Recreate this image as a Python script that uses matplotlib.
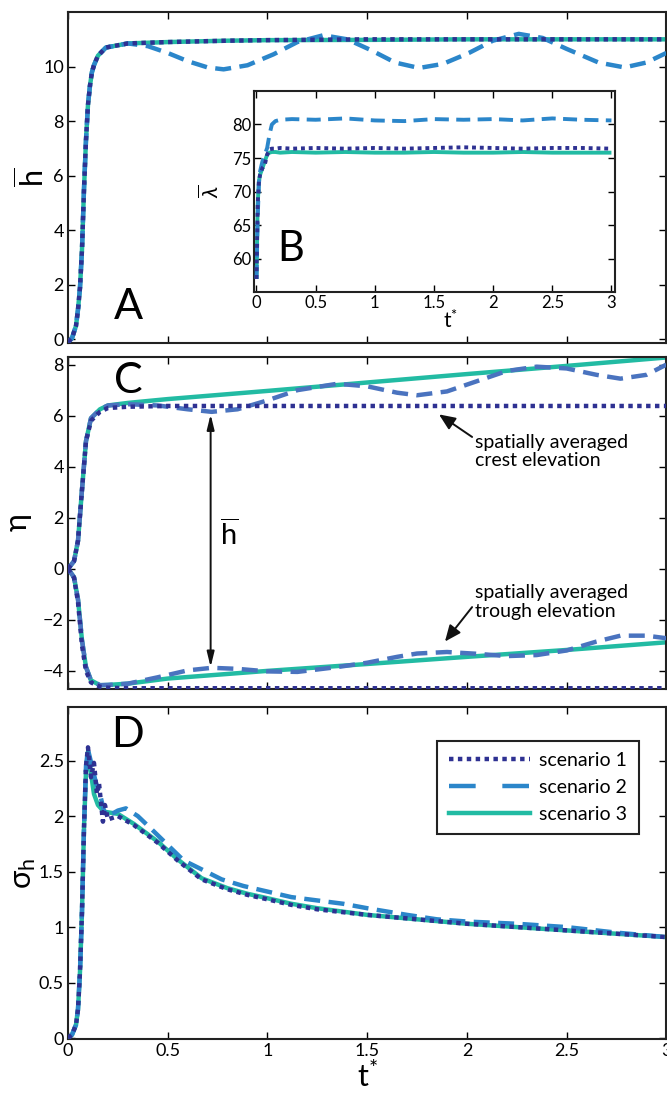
import warnings
warnings.filterwarnings("ignore")

import matplotlib
matplotlib.use("Agg")
import matplotlib.pyplot as plt
from matplotlib.lines import Line2D

plt.rcParams["font.family"] = ["Lato", "DejaVu Sans"]
plt.rcParams["mathtext.fontset"] = "custom"
plt.rcParams["mathtext.rm"] = "Lato"
plt.rcParams["mathtext.it"] = "Lato:italic"

# ==================== colours ====================
C_S1 = "#2E3192"   # scenario 1, dotted
C_S2 = "#2B86CA"   # scenario 2, dashed
C_S2C = "#4A73BF"  # scenario 2 in panel C
C_S3 = "#22BBA3"   # scenario 3, solid

DOT = (0, (1.0, 1.0))
DASH = (0, (3.6, 1.9))
LW = 3.2

# ==================== panel A : mean wave height ====================
t_a = [0, 0.02, 0.04, 0.05, 0.06, 0.07, 0.08, 0.09, 0.10, 0.11, 0.12, 0.13,
       0.15, 0.19, 0.3, 0.5, 0.8, 1.0, 1.5, 2.0, 2.5, 3.0]
h_s1 = [-0.1, 0.05, 0.5, 1.1, 1.9, 3.3, 5.5, 7.3, 8.6, 9.3, 9.8, 10.05,
        10.4, 10.7, 10.85, 10.9, 10.95, 10.97, 11.0, 11.0, 11.0, 11.0]
h_s3 = [-0.1, 0.05, 0.5, 1.1, 1.9, 3.3, 5.5, 7.3, 8.6, 9.3, 9.8, 10.05,
        10.4, 10.7, 10.85, 10.9, 10.95, 10.97, 10.98, 11.0, 11.0, 11.0]
t_a2 = [0, 0.02, 0.04, 0.05, 0.06, 0.07, 0.08, 0.09, 0.10, 0.11, 0.12, 0.13,
        0.15, 0.19, 0.3, 0.4, 0.5, 0.6, 0.7, 0.78, 0.9, 1.03, 1.15, 1.28,
        1.4, 1.52, 1.64, 1.76, 1.88, 2.01, 2.13, 2.26, 2.38, 2.5, 2.66,
        2.79, 2.9, 3.0]
h_s2 = [-0.1, 0.05, 0.5, 1.1, 1.9, 3.3, 5.5, 7.3, 8.6, 9.3, 9.8, 10.05,
        10.4, 10.7, 10.85, 10.75, 10.5, 10.2, 9.97, 9.9, 10.05, 10.45, 10.9,
        11.15, 11.0, 10.6, 10.15, 9.95, 10.1, 10.5, 10.95, 11.2, 11.05,
        10.65, 10.15, 9.97, 10.15, 10.5]

# ==================== panel B (inset) : mean wavelength ====================
t_b = [0, 0.01, 0.02, 0.03, 0.05, 0.07, 0.09, 0.11, 0.13, 0.16, 0.2, 0.3,
       0.5, 0.75, 1.0, 1.25, 1.5, 1.75, 2.0, 2.25, 2.5, 2.75, 3.0]
lam_s1 = [57, 68, 71.5, 72.5, 73.5, 74.0, 75.5, 76.3, 76.4, 76.4, 76.5, 76.4,
          76.5, 76.4, 76.5, 76.4, 76.5, 76.6, 76.5, 76.4, 76.5, 76.5, 76.4]
lam_s2 = [57, 66, 71, 73, 74.5, 75.5, 76.5, 78.5, 80.0, 80.5, 80.7, 80.8,
          80.7, 80.9, 80.6, 80.5, 80.8, 80.7, 80.8, 80.6, 80.9, 80.7, 80.6]
lam_s3 = [57, 68, 71.5, 72.5, 73.5, 74.5, 75.5, 75.8, 75.9, 75.9, 75.8, 75.9,
          75.8, 75.9, 75.8, 75.8, 75.9, 75.8, 75.8, 75.9, 75.8, 75.8, 75.8]

# ==================== panel C : crest / trough elevation ====================
t_c = [0, 0.03, 0.05, 0.07, 0.09, 0.115, 0.16, 0.2, 0.3, 0.5, 1.0, 1.5,
       2.0, 2.5, 3.0]
crest_s1 = [0, 0.3, 1.1, 3.1, 5.0, 5.8, 6.15, 6.3, 6.35, 6.38, 6.38, 6.38,
            6.38, 6.38, 6.38]
crest_s3 = [0, 0.3, 1.1, 3.1, 5.0, 5.9, 6.25, 6.4, 6.5, 6.65, 6.97, 7.3,
            7.63, 7.95, 8.28]
trough_s1 = [0, -0.35, -1.3, -3.0, -4.0, -4.45, -4.62, -4.66, -4.68, -4.68,
             -4.68, -4.68, -4.68, -4.68, -4.68]
trough_s3 = [0, -0.33, -1.2, -2.8, -3.85, -4.37, -4.56, -4.55, -4.5, -4.3,
             -4.0, -3.73, -3.45, -3.18, -2.88]
t_c2 = [0, 0.03, 0.05, 0.07, 0.09, 0.115, 0.16, 0.2, 0.3, 0.45, 0.6, 0.72,
        0.85, 1.0, 1.15, 1.35, 1.5, 1.65, 1.75, 1.9, 2.05, 2.2, 2.35, 2.5,
        2.65, 2.77, 2.9, 3.0]
crest_s2 = [0, 0.3, 1.1, 3.1, 5.0, 5.9, 6.25, 6.4, 6.45, 6.4, 6.25, 6.15,
            6.25, 6.6, 7.0, 7.25, 7.15, 6.9, 6.8, 6.95, 7.35, 7.75, 7.92,
            7.85, 7.6, 7.45, 7.6, 8.0]
trough_s2 = [0, -0.33, -1.2, -2.8, -3.85, -4.37, -4.56, -4.55, -4.5, -4.25,
             -3.98, -3.88, -3.92, -4.02, -4.04, -3.85, -3.68, -3.45, -3.32,
             -3.26, -3.33, -3.42, -3.38, -3.2, -2.85, -2.62, -2.62, -2.72]

# ==================== panel D : std of wave height ====================
t_d = [0, 0.02, 0.04, 0.05, 0.06, 0.07, 0.08, 0.09, 0.1, 0.11, 0.13, 0.15,
       0.18, 0.25, 0.33, 0.45, 0.55, 0.67, 0.8, 0.9, 1.0, 1.12, 1.25, 1.5,
       1.75, 2.0, 2.25, 2.5, 2.75, 3.0]
sig_s3 = [0, 0.03, 0.12, 0.26, 0.6, 1.14, 1.89, 2.4, 2.58, 2.45, 2.2, 2.1,
          2.04, 2.02, 1.93, 1.77, 1.61, 1.44, 1.35, 1.3, 1.26, 1.21, 1.17,
          1.11, 1.07, 1.03, 1.0, 0.97, 0.94, 0.91]
t_d1 = [0, 0.02, 0.04, 0.05, 0.06, 0.07, 0.08, 0.09, 0.1, 0.115, 0.13, 0.145,
        0.155, 0.175, 0.185, 0.2, 0.25, 0.33, 0.45, 0.55, 0.67, 0.8, 0.9,
        1.0, 1.12, 1.25, 1.5, 1.75, 2.0, 2.25, 2.5, 2.75, 3.0]
sig_s1 = [0, 0.03, 0.12, 0.26, 0.6, 1.14, 1.89, 2.45, 2.62, 2.35, 2.48, 2.2,
          2.3, 1.95, 2.1, 1.97, 2.0, 1.92, 1.76, 1.6, 1.43, 1.34, 1.29,
          1.25, 1.2, 1.16, 1.11, 1.07, 1.03, 1.0, 0.97, 0.94, 0.91]
t_d2 = [0, 0.02, 0.04, 0.05, 0.06, 0.07, 0.08, 0.09, 0.1, 0.12, 0.14, 0.16,
        0.18, 0.2, 0.25, 0.29, 0.35, 0.42, 0.5, 0.58, 0.67, 0.77, 0.88, 1.0,
        1.12, 1.25, 1.38, 1.5, 1.7, 1.85, 2.0, 2.25, 2.5, 2.75, 3.0]
sig_s2 = [0, 0.03, 0.12, 0.26, 0.6, 1.14, 1.89, 2.45, 2.6, 2.45, 2.3, 2.2,
          2.05, 2.0, 2.05, 2.07, 2.0, 1.88, 1.74, 1.6, 1.52, 1.43, 1.37,
          1.32, 1.27, 1.24, 1.21, 1.17, 1.11, 1.07, 1.05, 1.03, 1.0, 0.95,
          0.91]

X_TICKS = [0, 0.5, 1, 1.5, 2, 2.5, 3]
X_TICKLABELS = ["0", "0.5", "1", "1.5", "2", "2.5", "3"]


def style_axes(ax, labelsize=13):
    ax.tick_params(direction="in", top=True, right=True, length=5,
                   width=1.0, labelsize=labelsize, pad=3)
    for sp in ax.spines.values():
        sp.set_linewidth(1.5)
        sp.set_color("#222222")


def three_lines(ax, t1, y1, t2, y2, t3, y3, c2=C_S2, lw=LW):
    ax.plot(t3, y3, color=C_S3, lw=lw, solid_capstyle="butt", zorder=2)
    ax.plot(t2, y2, color=c2, lw=lw, linestyle=DASH, dash_capstyle="butt",
            zorder=3)
    ax.plot(t1, y1, color=C_S1, lw=lw, linestyle=DOT, dash_capstyle="butt",
            zorder=4)


def main():
    fig = plt.figure(figsize=(6.67, 10.95), dpi=100)

    # ---- panel A ----
    ax_a = fig.add_axes([0.102, 0.687, 0.897, 0.302])
    three_lines(ax_a, t_a, h_s1, t_a2, h_s2, t_a, h_s3)
    ax_a.set_xlim(0, 3.0)
    ax_a.set_ylim(-0.12, 12.0)
    ax_a.set_xticks(X_TICKS)
    ax_a.set_xticklabels([])
    ax_a.set_yticks([0, 2, 4, 6, 8, 10])
    style_axes(ax_a)
    ax_a.set_ylabel(r"$\overline{\mathrm{h}}$", fontsize=22)
    ax_a.yaxis.set_label_coords(-0.03, 0.5)
    ax_a.text(0.077, 0.052, "A", transform=ax_a.transAxes, fontsize=31,
              ha="left", va="bottom")

    # ---- inset B ----
    ax_b = fig.add_axes([0.381, 0.733, 0.541, 0.184])
    three_lines(ax_b, t_b, lam_s1, t_b, lam_s2, t_b, lam_s3, lw=2.8)
    ax_b.set_xlim(-0.02, 3.03)
    ax_b.set_ylim(55, 85)
    ax_b.set_xticks(X_TICKS)
    ax_b.set_xticklabels(X_TICKLABELS)
    ax_b.set_yticks([60, 65, 70, 75, 80])
    style_axes(ax_b, labelsize=12)
    ax_b.tick_params(pad=2)
    ax_b.set_xlabel(r"$\mathrm{t}^{*}$", fontsize=15)
    ax_b.xaxis.set_label_coords(0.545, -0.085)
    ax_b.set_ylabel(r"$\overline{\lambda}$", fontsize=16)
    ax_b.yaxis.set_label_coords(-0.086, 0.5)
    ax_b.text(0.064, 0.12, "B", transform=ax_b.transAxes, fontsize=30,
              ha="left", va="bottom")

    # ---- panel C ----
    ax_c = fig.add_axes([0.102, 0.371, 0.897, 0.303])
    three_lines(ax_c, t_c, crest_s1, t_c2, crest_s2, t_c, crest_s3, c2=C_S2C)
    three_lines(ax_c, t_c, trough_s1, t_c2, trough_s2, t_c, trough_s3, c2=C_S2C)
    ax_c.set_xlim(0, 3.0)
    ax_c.set_ylim(-4.7, 8.3)
    ax_c.set_xticks(X_TICKS)
    ax_c.set_xticklabels([])
    ax_c.set_yticks([-4, -2, 0, 2, 4, 6, 8])
    style_axes(ax_c)
    ax_c.set_ylabel(r"$\mathrm{\eta}$", fontsize=22)
    ax_c.yaxis.set_label_coords(-0.057, 0.5)
    ax_c.text(0.077, 0.985, "C", transform=ax_c.transAxes, fontsize=31,
              ha="left", va="top")

    ax_c.annotate("", xy=(0.715, 6.05), xytext=(0.715, -3.85),
                  arrowprops=dict(arrowstyle="<|-|>,head_length=0.9,head_width=0.22",
                                  color="#111111", lw=1.4, shrinkA=0, shrinkB=0))
    ax_c.text(0.76, 1.35, r"$\overline{\mathrm{h}}$", fontsize=21,
              ha="left", va="center")
    ax_c.annotate("spatially averaged\ncrest elevation", xy=(1.86, 6.05),
                  xytext=(2.04, 5.3), fontsize=14, ha="left", va="top",
                  linespacing=1.1,
                  arrowprops=dict(arrowstyle="-|>,head_length=0.7,head_width=0.3",
                                  color="#111111", lw=1.4, shrinkA=0, shrinkB=0,
                                  relpos=(0.0, 0.85)))
    ax_c.annotate("spatially averaged\ntrough elevation", xy=(1.89, -2.85),
                  xytext=(2.04, -0.6), fontsize=14, ha="left", va="top",
                  linespacing=1.1,
                  arrowprops=dict(arrowstyle="-|>,head_length=0.7,head_width=0.3",
                                  color="#111111", lw=1.4, shrinkA=0, shrinkB=0,
                                  relpos=(0.0, 0.45)))

    # ---- panel D ----
    ax_d = fig.add_axes([0.102, 0.051, 0.897, 0.303])
    three_lines(ax_d, t_d1, sig_s1, t_d2, sig_s2, t_d, sig_s3)
    ax_d.set_xlim(0, 3.0)
    ax_d.set_ylim(-0.01, 2.98)
    ax_d.set_xticks(X_TICKS)
    ax_d.set_xticklabels(X_TICKLABELS)
    ax_d.set_yticks([0, 0.5, 1, 1.5, 2, 2.5])
    ax_d.set_yticklabels(["0", "0.5", "1", "1.5", "2", "2.5"])
    style_axes(ax_d)
    ax_d.set_xlabel(r"$\mathrm{t}^{*}$", fontsize=22, labelpad=1)
    ax_d.set_ylabel(r"$\mathrm{\sigma}_{\mathrm{h}}$", fontsize=22)
    ax_d.yaxis.set_label_coords(-0.05, 0.5)
    ax_d.text(0.072, 0.975, "D", transform=ax_d.transAxes, fontsize=31,
              ha="left", va="top")

    handles = [
        Line2D([0], [0], color=C_S1, lw=LW, linestyle=(0, (1.0, 1.0)),
               dash_capstyle="butt", label="scenario 1"),
        Line2D([0], [0], color=C_S2, lw=LW, linestyle=(0, (6.0, 6.0)),
               dash_capstyle="butt", label="scenario 2"),
        Line2D([0], [0], color=C_S3, lw=LW, label="scenario 3"),
    ]
    leg = ax_d.legend(handles=handles, loc="upper right",
                      bbox_to_anchor=(0.954, 0.90), borderaxespad=0,
                      fontsize=14, handlelength=4.2, handletextpad=0.45,
                      labelspacing=0.5, borderpad=0.6, fancybox=False,
                      framealpha=1)
    leg.get_frame().set_edgecolor("#222222")
    leg.get_frame().set_linewidth(1.5)

    fig.savefig("out.png", dpi=100)
    plt.close(fig)


if __name__ == "__main__":
    main()
